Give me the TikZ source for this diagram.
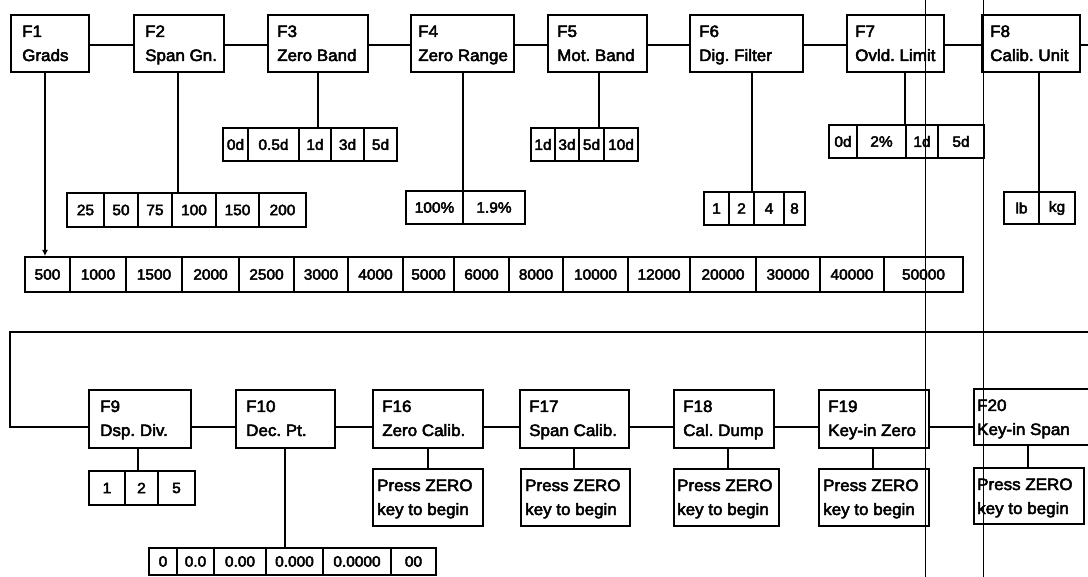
\documentclass[tikz,border=0pt]{standalone}
\usepackage{fontspec}
\setmainfont{Liberation Sans}[FakeStretch=1.03,FakeBold=3]
\usetikzlibrary{arrows.meta}
\frenchspacing
\newcommand\FB[8]{%
  \pgfmathsetmacro\fbw{#4-#2}%
  \pgfmathsetmacro\fbh{#5-#3}%
  \node[fbox,minimum width=\fbw pt,minimum height=\fbh pt] (#1) at (#2,#3) {};
  \node[ftext] (#1a) at ([xshift=#6pt,yshift=-23pt]#1.north west) {#7};
  \node[ftext] (#1b) at ([xshift=#6pt,yshift=-47pt]#1.north west) {#8};}
\newcommand\CELLS[4]{%
  \foreach \a/\b/\t [count=\i] in {#4} {%
    \node[cell,minimum width={\b-\a},minimum height={#3}] (#1\i) at (\a,#2) {\t};}}
\begin{document}
\begin{tikzpicture}[x=1pt,y=-1pt,
  fbox/.style={draw,line width=2.2pt,anchor=north west,inner sep=0pt},
  ftext/.style={anchor=base west,inner sep=0pt,font=\fontsize{16.5}{20}\selectfont},
  cell/.style={draw,line width=2pt,anchor=north west,inner sep=0pt,font=\fontsize{15}{18}\selectfont},
  conn/.style={line width=2.2pt},
  scanline/.style={line width=0.9pt}]
\useasboundingbox (0,0) rectangle (1088,577);
\clip (0,0) rectangle (1088,577);
\fill[white] (0,0) rectangle (1088,577);
% top row of function boxes
\FB{f1}{10}{14}{88}{71}{12}{F1}{Grads}
\FB{f2}{133}{14}{223}{71}{12}{F2}{Span Gn.}
\FB{f3}{267}{14}{367}{71}{10}{F3}{Zero Band}
\FB{f4}{410}{14}{513}{71}{8}{F4}{Zero Range}
\FB{f5}{547}{14}{646}{71}{10}{F5}{Mot. Band}
\FB{f6}{689}{14}{802}{71}{10}{F6}{Dig. Filter}
\FB{f7}{846}{14}{943}{71}{9}{F7}{Ovld. Limit}
\FB{f8}{981}{14}{1079}{71}{9}{F8}{Calib. Unit}
% bottom row of function boxes
\FB{f9}{88}{389}{190}{447}{12}{F9}{Dsp. Div.}
\FB{f10}{235}{389}{334}{447}{11}{F10}{Dec. Pt.}
\FB{f16}{372}{389}{482}{447}{10}{F16}{Zero Calib.}
\FB{f17}{519}{389}{628}{447}{10}{F17}{Span Calib.}
\FB{f18}{673}{389}{773}{447}{10}{F18}{Cal. Dump}
\FB{f19}{818}{389}{928}{447}{10}{F19}{Key-in Zero}
\FB{f20}{973}{388}{1100}{444}{4}{F20}{Key-in Span}
% press zero boxes
\FB{p16}{372}{468}{482}{525}{5}{Press ZERO}{key to begin}
\FB{p17}{520}{468}{629}{525}{5}{Press ZERO}{key to begin}
\FB{p18}{673}{468}{778}{525}{4}{Press ZERO}{key to begin}
\FB{p19}{818}{468}{928}{525}{5}{Press ZERO}{key to begin}
\FB{p20}{973}{467}{1083}{523}{4}{Press ZERO}{key to begin}
% option rows
\CELLS{a}{127}{33}{222/247/0d,247/298/0.5d,298/330/1d,330/363/3d,363/396/5d}
\CELLS{c}{127}{33}{530/554/1d,554/578/3d,578/603/5d,603/637/10d}
\CELLS{e}{124}{33}{828/856/0d,856/905/2\%,905/937/1d,937/983/5d}
\CELLS{s}{192}{34}{66/103/25,103/137/50,137/171/75,171/215/100,215/258/150,258/305/200}
\CELLS{z}{190}{33}{405/462/100\%,462/524/1.9\%}
\CELLS{d}{191}{33}{703/728/1,728/753/2,753/783/4,783/804/8}
\CELLS{u}{191}{32}{1003/1038/lb,1038/1074/kg}
\CELLS{g}{256}{35}{24/69/500,69/125/1000,125/181/1500,181/238/2000,238/293/2500,293/347/3000,347/402/4000,402/453/5000,453/508/6000,508/562/8000,562/627/10000,627/689/12000,689/755/20000,755/819/30000,819/883/40000,883/962/50000}
\CELLS{v}{470}{34}{88/124/1,124/157/2,157/194/5}
\CELLS{p}{547}{27}{148/176/0,176/213/0.0,213/265/0.00,265/322/0.000,322/390/0.0000,390/435/00}
% helper coordinates
\coordinate (ty) at (0,45);
\coordinate (by) at (0,427);
\foreach \n/\x in {f1/45,f2/178,f3/318,f4/463,f5/599,f6/752,f7/905,f8/1039,f9/138,f10/285,f16/428,f17/574,f18/728,f19/873,f20/1028}
  \coordinate (\n x) at (\x,0);
\coordinate (wrapR) at (1088,332);
\coordinate (wrapL) at (10,332);
\coordinate (edgeR) at (1088,45);
% horizontal connectors, top
\draw[conn] (f1.east |- ty) -- (f2.west |- ty);
\draw[conn] (f2.east |- ty) -- (f3.west |- ty);
\draw[conn] (f3.east |- ty) -- (f4.west |- ty);
\draw[conn] (f4.east |- ty) -- (f5.west |- ty);
\draw[conn] (f5.east |- ty) -- (f6.west |- ty);
\draw[conn] (f6.east |- ty) -- (f7.west |- ty);
\draw[conn] (f7.east |- ty) -- (f8.west |- ty);
\draw[conn] (f8.east |- ty) -- (edgeR);
% wrap to second row
\draw[conn] (wrapR) -- (wrapL) |- (f9.west |- by);
% horizontal connectors, bottom
\draw[conn] (f9.east |- by) -- (f10.west |- by);
\draw[conn] (f10.east |- by) -- (f16.west |- by);
\draw[conn] (f16.east |- by) -- (f17.west |- by);
\draw[conn] (f17.east |- by) -- (f18.west |- by);
\draw[conn] (f18.east |- by) -- (f19.west |- by);
\draw[conn] (f19.east |- by) -- (f20.west |- by);
% vertical connectors to options
\draw[conn,-{Latex[length=6pt,width=6pt]}] (f1.south -| f1x) -- (g1.north -| f1x);
\draw[conn] (f2.south -| f2x) -- (s4.north -| f2x);
\draw[conn] (f3.south -| f3x) -- (a3.north -| f3x);
\draw[conn] (f4.south -| f4x) -- (z1.north -| f4x);
\draw[conn] (f5.south -| f5x) -- (c3.north -| f5x);
\draw[conn] (f6.south -| f6x) -- (d3.north -| f6x);
\draw[conn] (f7.south -| f7x) -- (e3.north -| f7x);
\draw[conn] (f8.south -| f8x) -- (u2.north -| f8x);
\draw[conn] (f9.south -| f9x) -- (v2.north -| f9x);
\draw[conn] (f10.south -| f10x) -- (p4.north -| f10x);
\draw[conn] (f16.south -| f16x) -- (p16.north -| f16x);
\draw[conn] (f17.south -| f17x) -- (p17.north -| f17x);
\draw[conn] (f18.south -| f18x) -- (p18.north -| f18x);
\draw[conn] (f19.south -| f19x) -- (p19.north -| f19x);
\draw[conn] (f20.south -| f20x) -- (p20.north -| f20x);
% thin vertical scan lines
\draw[scanline] (925,0) -- (925,577);
\draw[scanline] (983,0) -- (983,577);
\end{tikzpicture}
\end{document}
